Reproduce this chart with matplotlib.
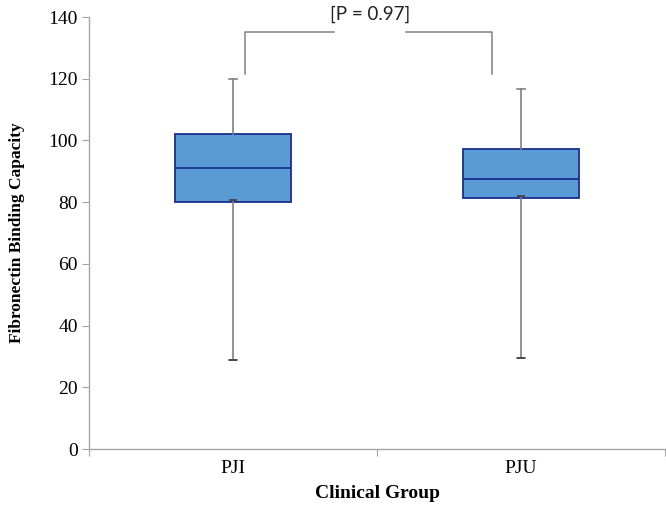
import matplotlib
matplotlib.use("Agg")
import matplotlib.pyplot as plt

groups = ["PJI", "PJU"]
whisker_low = [29.0, 29.4]
q1 = [80.0, 81.2]
median = [91.2, 87.4]
q3 = [102.0, 97.3]
whisker_high = [120.0, 116.6]
low_cap = [80.7, 81.9]   # little error-bar cap sitting just above Q1

bracket_y = 135
bracket_drop = 121.5
bracket_left, bracket_right = 0.042, 0.90
p_text = "[P = 0.97]"

plt.rcParams['font.family'] = ['Liberation Serif', 'DejaVu Serif']

fig = plt.figure(figsize=(6.66, 5.13), dpi=100)
ax = fig.add_axes([89 / 666, 64 / 513, 576 / 666, 432 / 513])

stats = []
for i in range(len(groups)):
    stats.append(dict(med=median[i], q1=q1[i], q3=q3[i],
                      whislo=whisker_low[i], whishi=whisker_high[i], fliers=[]))

ax.bxp(stats, positions=[0, 1], widths=0.4, patch_artist=True, capwidths=0.028,
       boxprops=dict(facecolor='#5B9BD5', edgecolor='#1B2F8C', linewidth=1.3),
       medianprops=dict(color='#1B2F8C', linewidth=1.3),
       whiskerprops=dict(color='#808080', linewidth=1.2),
       capprops=dict(color='#808080', linewidth=1.2))
for i in range(len(groups)):
    ax.hlines(low_cap[i], i - 0.014, i + 0.014, color='#444444', lw=1.3, zorder=4)
    ax.hlines(whisker_low[i], i - 0.014, i + 0.014, color='#444444', lw=1.3, zorder=4)

# significance bracket
gap_l, gap_r = 0.35, 0.60
ax.plot([bracket_left, bracket_left, gap_l], [bracket_drop, bracket_y, bracket_y],
        color='#808080', lw=1.1, clip_on=False)
ax.plot([gap_r, bracket_right, bracket_right], [bracket_y, bracket_y, bracket_drop],
        color='#808080', lw=1.1, clip_on=False)
ax.text(0.475, 140.8, p_text, ha='center', va='center', fontsize=13.5,
        family=['Lato', 'DejaVu Sans'], color='#222222')

ax.set_xlim(-0.5, 1.5)
ax.set_ylim(0, 140)
ax.set_yticks(range(0, 141, 20))
ax.set_xticks([-0.5, 0.5, 1.5])
ax.set_xticklabels([])
ax.set_xticks([0, 1], minor=True)
ax.set_xticklabels(groups, minor=True)
ax.tick_params(axis='x', which='minor', length=0, pad=8, labelsize=14)
ax.tick_params(axis='x', which='major', length=5, color='#A6A6A6')
ax.tick_params(axis='y', length=5, color='#A6A6A6', labelsize=14, pad=3)

for s in ['top', 'right']:
    ax.spines[s].set_visible(False)
for s in ['left', 'bottom']:
    ax.spines[s].set_color('#A6A6A6')
    ax.spines[s].set_linewidth(1.0)

ax.set_xlabel("Clinical Group", fontsize=14, fontweight='bold', labelpad=6)
ax.set_ylabel("Fibronectin Binding Capacity", fontsize=12.5, fontweight='bold', labelpad=17)

fig.savefig("out.png", dpi=100)
